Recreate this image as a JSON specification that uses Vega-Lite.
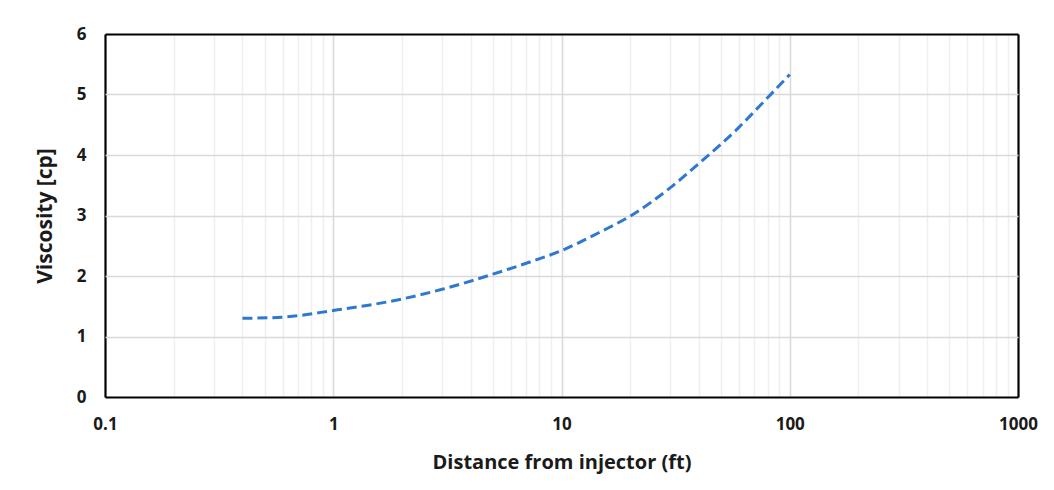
{
  "$schema": "https://vega.github.io/schema/vega-lite/v6.json",
  "width": 913,
  "height": 363,
  "autosize": {"type": "none"},
  "padding": {"left": 105, "top": 34, "right": 36, "bottom": 93},
  "background": "white",
  "config": {
    "view": {"stroke": null},
    "font": "Open Sans"
  },
  "data": {
    "values": [
      {"distance": 0.4, "viscosity": 1.30},
      {"distance": 0.6, "viscosity": 1.32},
      {"distance": 1, "viscosity": 1.43},
      {"distance": 2, "viscosity": 1.62},
      {"distance": 3, "viscosity": 1.78},
      {"distance": 5, "viscosity": 2.03},
      {"distance": 7, "viscosity": 2.21},
      {"distance": 10, "viscosity": 2.42},
      {"distance": 15, "viscosity": 2.74},
      {"distance": 20, "viscosity": 2.99},
      {"distance": 30, "viscosity": 3.46},
      {"distance": 40, "viscosity": 3.86},
      {"distance": 50, "viscosity": 4.18},
      {"distance": 60, "viscosity": 4.46},
      {"distance": 70, "viscosity": 4.72},
      {"distance": 82, "viscosity": 4.99},
      {"distance": 100, "viscosity": 5.33}
    ]
  },
  "mark": {
    "type": "line",
    "color": "#2E78D0",
    "strokeWidth": 3,
    "strokeDash": [10, 5],
    "interpolate": "monotone"
  },
  "encoding": {
    "x": {
      "field": "distance",
      "type": "quantitative",
      "scale": {"type": "log", "domain": [0.1, 1000], "nice": false},
      "axis": {
        "title": "Distance from injector (ft)",
        "values": [0.1,0.2,0.3,0.4,0.5,0.6,0.7,0.8,0.9,1,2,3,4,5,6,7,8,9,10,20,30,40,50,60,70,80,90,100,200,300,400,500,600,700,800,900,1000],
        "format": "~g",
        "labelExpr": "abs(log(datum.value)/LN10 - round(log(datum.value)/LN10)) < 0.000001 ? datum.label : ''",
        "gridColor": {"condition": [
          {"test": "datum.value <= 0.1000001 || datum.value >= 999.999", "value": "#000000"},
          {"test": "abs(log(datum.value)/LN10 - round(log(datum.value)/LN10)) < 0.000001", "value": "#d9d9d9"}
        ], "value": "#efefef"},
        "gridWidth": {"condition": {"test": "datum.value <= 0.1000001 || datum.value >= 999.999", "value": 2.2}, "value": 1.5},
        "ticks": false,
        "domain": false,
        "labelOverlap": false,
        "labelFlush": false,
        "labelPadding": 19,
        "labelFontSize": 17,
        "labelFontWeight": "bold",
        "labelColor": "#1a1a1a",
        "titleFontSize": 20,
        "titleFontWeight": "bold",
        "titleColor": "#1a1a1a",
        "titlePadding": 20
      }
    },
    "y": {
      "field": "viscosity",
      "type": "quantitative",
      "scale": {"domain": [0, 6], "nice": false},
      "axis": {
        "title": "Viscosity [cp]",
        "values": [0,1,2,3,4,5,6],
        "gridColor": {"condition": {"test": "datum.value == 0 || datum.value == 6", "value": "#000000"}, "value": "#d9d9d9"},
        "gridWidth": {"condition": {"test": "datum.value == 0 || datum.value == 6", "value": 2.2}, "value": 1.5},
        "ticks": false,
        "domain": false,
        "labelPadding": 19,
        "labelFontSize": 17,
        "labelFontWeight": "bold",
        "labelColor": "#1a1a1a",
        "titleFontSize": 21,
        "titleFontWeight": "bold",
        "titleColor": "#1a1a1a",
        "titlePadding": 21
      }
    }
  }
}
